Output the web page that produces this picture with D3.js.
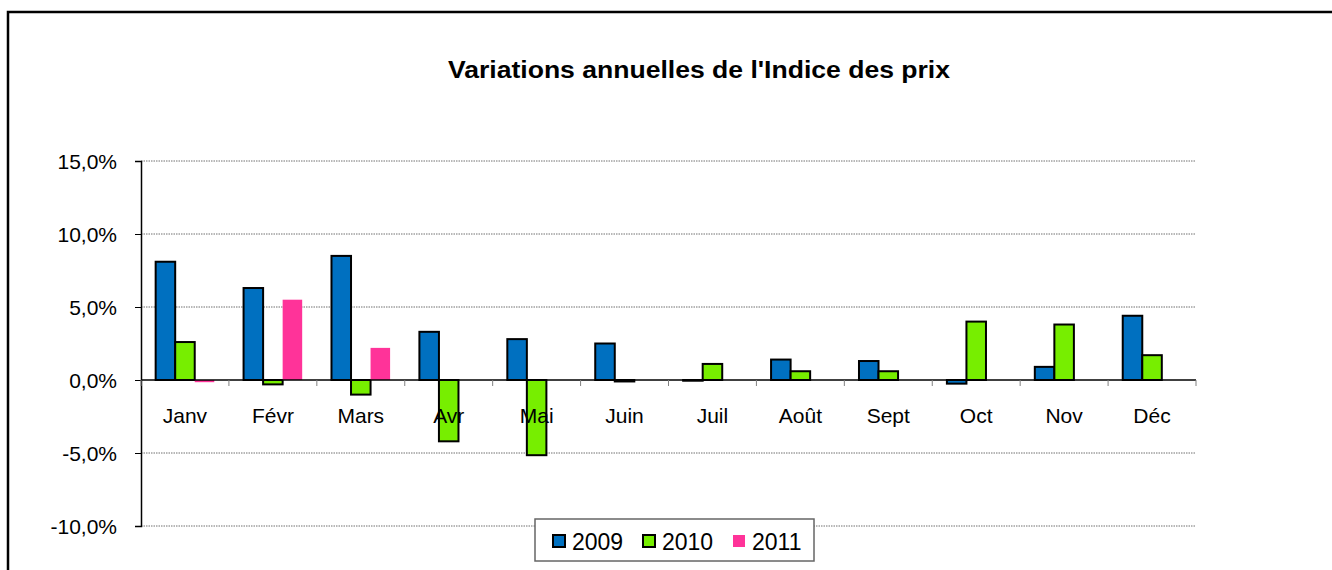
<!DOCTYPE html>
<html>
<head>
<meta charset="utf-8">
<script src="https://cdn.jsdelivr.net/npm/d3@7"></script>
<style>
  html, body { margin: 0; padding: 0; background: #fff; }
  svg { display: block; font-family: Arial, "Liberation Sans", sans-serif; }
</style>
</head>
<body>
<svg id="chart" width="1332" height="570"></svg>
<script>
// data
const months = ["Janv", "Févr", "Mars", "Avr", "Mai", "Juin", "Juil", "Août", "Sept", "Oct", "Nov", "Déc"];
const series = ["2009", "2010", "2011"];
const v2009 = [8.1, 6.3, 8.5, 3.3, 2.8, 2.5, -0.05, 1.4, 1.3, -0.25, 0.9, 4.4];
const v2010 = [2.6, -0.3, -1.0, -4.2, -5.15, -0.1, 1.1, 0.6, 0.6, 4.0, 3.8, 1.7];
const v2011 = [-0.15, 5.5, 2.2];
const yTicks = [-10, -5, 0, 5, 10, 15];

const colors = { "2009": "#0070C0", "2010": "#77EE00", "2011": "#FF3399" };
const strokes = { "2009": "#000", "2010": "#000", "2011": "none" };
const values = { "2009": v2009, "2010": v2010, "2011": v2011 };

const W = 1332, H = 570;
const L = 141, R = 1196, T = 161, B = 526;

const svg = d3.select("#chart");

// outer frame (runs off the picture at right and bottom)
svg.append("rect")
    .attr("x", 8).attr("y", 12)
    .attr("width", 1400).attr("height", 700)
    .attr("fill", "#fff").attr("stroke", "#000").attr("stroke-width", 2.5);

// title (the original face is a bit wider than Arial Bold)
svg.append("text")
    .attr("x", 448).attr("y", 78)
    .attr("font-size", 23).attr("font-weight", "700")
    .attr("textLength", 502).attr("lengthAdjust", "spacingAndGlyphs")
    .text("Variations annuelles de l'Indice des prix");

// scales
const x = d3.scaleBand().domain(months).range([L, R]).padding(0);
const xs = d3.scaleBand().domain(series).range([0, x.bandwidth()])
    .paddingInner(0).paddingOuter(0.75);
const y = d3.scaleLinear().domain([-10, 15]).range([B, T]);

// gridlines
svg.append("g").selectAll("line")
    .data(yTicks.filter(t => t !== 0))
    .join("line")
    .attr("x1", L).attr("x2", R)
    .attr("y1", d => y(d)).attr("y2", d => y(d))
    .attr("stroke", "#707070").attr("stroke-width", 1)
    .attr("stroke-dasharray", "1.5,1");

// y axis
const yAxis = svg.append("g")
    .attr("transform", `translate(${L},0)`)
    .call(d3.axisLeft(y).tickValues(yTicks).tickSize(6).tickPadding(18)
        .tickFormat(d => d3.format(".1f")(d).replace(".", ",").replace("−", "-") + "%"));
yAxis.select(".domain").attr("stroke", "#000").attr("stroke-width", 1.5);
yAxis.selectAll(".tick line").attr("stroke", "#000");
yAxis.selectAll(".tick text")
    .attr("font-size", 21).attr("font-family", "Arial, 'Liberation Sans', sans-serif")
    .attr("fill", "#000").attr("dy", "0.36em");

// bars
const groups = svg.append("g").selectAll("g")
    .data(series)
    .join("g");

groups.selectAll("rect")
    .data(s => values[s].map((v, i) => ({ s, v, m: months[i] })))
    .join("rect")
    .attr("x", d => x(d.m) + xs(d.s))
    .attr("y", d => y(Math.max(0, d.v)))
    .attr("width", xs.bandwidth())
    .attr("height", d => Math.abs(y(d.v) - y(0)))
    .attr("fill", d => colors[d.s])
    .attr("stroke", d => strokes[d.s])
    .attr("stroke-width", 2);

// x axis (category ticks between months)
const xAxis = svg.append("g").attr("transform", `translate(0,${y(0)})`);
xAxis.append("line")
    .attr("x1", L).attr("x2", R).attr("y1", 0).attr("y2", 0)
    .attr("stroke", "#000").attr("stroke-width", 1.5);
xAxis.selectAll(".xt")
    .data(d3.range(months.length + 1))
    .join("line")
    .attr("class", "xt")
    .attr("x1", i => L + i * x.step()).attr("x2", i => L + i * x.step())
    .attr("y1", 0).attr("y2", 6)
    .attr("stroke", "#808080").attr("stroke-width", 1);
xAxis.selectAll("text")
    .data(months)
    .join("text")
    .attr("x", d => x(d) + x.bandwidth() / 2)
    .attr("y", 43)
    .attr("text-anchor", "middle")
    .attr("font-size", 21).attr("fill", "#000")
    .text(d => d);

// legend
const lg = svg.append("g");
lg.append("rect")
    .attr("x", 535).attr("y", 519)
    .attr("width", 279).attr("height", 42)
    .attr("fill", "#fff").attr("stroke", "#666").attr("stroke-width", 1.5);
const lx = [553, 643, 733];
series.forEach((s, i) => {
    lg.append("rect")
        .attr("x", lx[i]).attr("y", 535)
        .attr("width", 12).attr("height", 12)
        .attr("fill", colors[s])
        .attr("stroke", strokes[s]).attr("stroke-width", 2);
    lg.append("text")
        .attr("x", lx[i] + 19).attr("y", 550)
        .attr("font-size", 23).attr("fill", "#000")
        .text(s);
});
</script>
</body>
</html>
